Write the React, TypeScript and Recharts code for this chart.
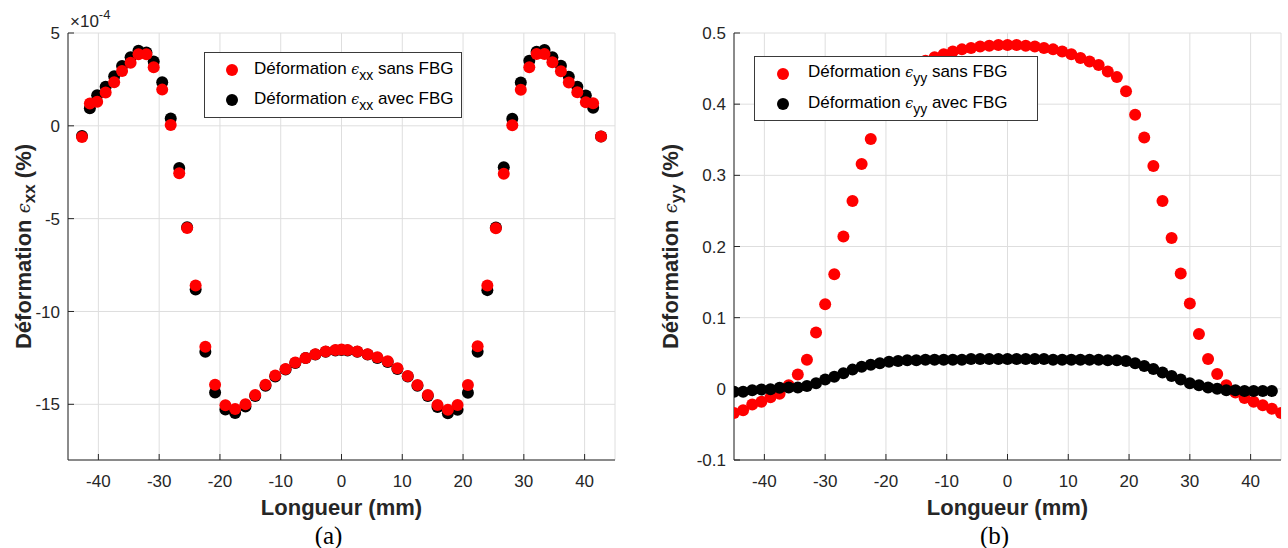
import React from 'react';
import { ScatterChart, Scatter, XAxis, YAxis, CartesianGrid, Legend } from 'recharts';

// ---------- data ----------
const xTicks = [-40, -30, -20, -10, 0, 10, 20, 30, 40];
const yTicksA = [-15, -10, -5, 0, 5];
const yTicksB = [-0.1, 0, 0.1, 0.2, 0.3, 0.4, 0.5];

// (a) positions (mm)
const posA = [
  -42.7, -41.4, -40.2, -38.8, -37.4, -36.1, -34.7, -33.4, -32.1, -30.9, -29.5, -28.1, -26.7, -25.4, -24.0,
  -22.4, -20.8, -19.1, -17.5, -15.8, -14.2, -12.5, -10.9, -9.2, -7.6, -5.9, -4.3, -2.6, -1.0, 0,
  1.0, 2.6, 4.3, 5.9, 7.6, 9.2, 10.9, 12.5, 14.2, 15.8, 17.5, 19.1, 20.8, 22.4, 24.0,
  25.4, 26.7, 28.1, 29.5, 30.9, 32.1, 33.4, 34.7, 36.1, 37.4, 38.8, 40.2, 41.4, 42.7,
];
// (a) eps_xx sans FBG (x1e-4 %)
const exxSans = [
  -0.6, 1.2, 1.3, 1.8, 2.35, 2.95, 3.4, 3.85, 3.85, 3.15, 1.95, 0.05, -2.55, -5.5, -8.6,
  -11.9, -13.95, -15.05, -15.25, -15.0, -14.5, -13.95, -13.45, -13.1, -12.75, -12.5, -12.3, -12.15, -12.08, -12.05,
  -12.08, -12.15, -12.3, -12.47, -12.68, -13.06, -13.48, -13.96, -14.5, -15.04, -15.3, -15.04, -13.96, -11.87, -8.6,
  -5.52, -2.58, 0.03, 1.94, 3.15, 3.87, 3.87, 3.42, 2.94, 2.34, 1.81, 1.27, 1.22, -0.58,
];
// (a) eps_xx avec FBG
const exxAvec = [
  -0.55, 0.95, 1.65, 2.1, 2.67, 3.22, 3.7, 4.05, 3.95, 3.47, 2.35, 0.39, -2.27, -5.46, -8.82,
  -12.17, -14.37, -15.28, -15.47, -15.12, -14.55, -14.0, -13.5, -13.12, -12.78, -12.5, -12.32, -12.17, -12.1, -12.08,
  -12.1, -12.17, -12.32, -12.5, -12.72, -13.1, -13.5, -14.0, -14.55, -15.15, -15.48, -15.3, -14.38, -12.17, -8.85,
  -5.47, -2.23, 0.38, 2.34, 3.51, 3.99, 4.09, 3.69, 3.24, 2.65, 2.11, 1.63, 0.97, -0.58,
];

// (b) positions (mm)
const posB = [
  -45, -43.5, -42, -40.5, -39, -37.5, -36, -34.5, -33, -31.5, -30, -28.5, -27, -25.5, -24, -22.5,
  -21, -19.5, -18, -16.5, -15, -13.5, -12, -10.5, -9, -7.5, -6, -4.5, -3, -1.5, 0,
  1.5, 3, 4.5, 6, 7.5, 9, 10.5, 12, 13.5, 15, 16.5, 18, 19.5, 21, 22.5,
  24, 25.5, 27, 28.5, 30, 31.5, 33, 34.5, 36, 37.5, 39, 40.5, 42, 43.5, 45,
];
// (b) eps_yy sans FBG (%)
const eyySans = [
  -0.034, -0.030, -0.022, -0.018, -0.012, -0.007, 0.005, 0.020, 0.041, 0.079, 0.119, 0.161, 0.214, 0.264, 0.316, 0.351,
  0.385, 0.418, 0.437, 0.447, 0.455, 0.461, 0.466, 0.470, 0.474, 0.477, 0.479, 0.481, 0.482, 0.483, 0.483,
  0.483, 0.482, 0.481, 0.479, 0.477, 0.474, 0.470, 0.465, 0.460, 0.455, 0.446, 0.438, 0.418, 0.385, 0.353,
  0.313, 0.264, 0.212, 0.162, 0.120, 0.077, 0.042, 0.021, 0.005, -0.005, -0.013, -0.018, -0.023, -0.028, -0.034,
];
// (b) eps_yy avec FBG (%)
const eyyAvec = [
  -0.004, -0.004, -0.002, -0.001, -0.0005, 0.0015, 0.002, 0.002, 0.004, 0.008, 0.013, 0.017, 0.022, 0.027, 0.031, 0.034,
  0.036, 0.038, 0.039, 0.040, 0.040, 0.041, 0.041, 0.041, 0.041, 0.041, 0.042, 0.042, 0.042, 0.042, 0.042,
  0.042, 0.042, 0.042, 0.042, 0.041, 0.041, 0.041, 0.041, 0.041, 0.041, 0.040, 0.040, 0.039, 0.036, 0.032,
  0.028, 0.023, 0.018, 0.013, 0.008, 0.005, 0.002, 0.000, -0.002, -0.002, -0.003, -0.003, -0.003, -0.003,
];

const legendA = [
  { pre: 'Déformation ', sym: 'ϵ', sub: 'xx', post: ' sans FBG', color: '#ff0000' },
  { pre: 'Déformation ', sym: 'ϵ', sub: 'xx', post: ' avec FBG', color: '#000000' },
];
const legendB = [
  { pre: 'Déformation ', sym: 'ϵ', sub: 'yy', post: ' sans FBG', color: '#ff0000' },
  { pre: 'Déformation ', sym: 'ϵ', sub: 'yy', post: ' avec FBG', color: '#000000' },
];

const toPts = (xs: number[], ys: number[]) => ys.map((y, i) => ({ x: xs[i], y }));
const dataASans = toPts(posA, exxSans);
const dataAAvec = toPts(posA, exxAvec);
const dataBSans = toPts(posB, eyySans);
const dataBAvec = toPts(posB, eyyAvec);

// ---------- styles ----------
const FONT = '"Liberation Sans", Arial, Helvetica, sans-serif';
const AX = '#262626';
const GRID = '#dedede';
const tickStyle = { fill: AX, fontSize: 17, fontFamily: FONT };

const dot = (fill: string, r: number) => (props: any) => {
  if (props.cx == null || props.cy == null) return <g />;
  return <circle cx={props.cx} cy={props.cy} r={r} fill={fill} />;
};

const LegendBox = ({ entries, w, h, mx, tx, rows, tops }: any) => (
  <div
    style={{
      position: 'relative', width: w, height: h, boxSizing: 'border-box',
      border: '1px solid #3a3a3a', background: '#fff', fontFamily: FONT, fontSize: 17, color: '#000',
    }}
  >
    {entries.map((e: any, i: number) => (
      <React.Fragment key={i}>
        <div
          style={{
            position: 'absolute', left: mx - 6, top: rows[i] - 6, width: 12, height: 12,
            borderRadius: '50%', background: e.color,
          }}
        />
        <div style={{ position: 'absolute', left: tx, top: tops[i], lineHeight: '22px', whiteSpace: 'nowrap' }}>
          {e.pre}
          <span style={{ fontStyle: 'italic', fontFamily: '"DejaVu Serif", serif', fontSize: 14 }}>{e.sym}</span>
          <span style={{ fontSize: 14, position: 'relative', top: 6 }}>{e.sub}</span>
          {e.post}
        </div>
      </React.Fragment>
    ))}
  </div>
);

const YTitle = ({ viewBox, sub, dx, exp }: any) => {
  if (!viewBox) return null;
  const cx = viewBox.x + dx;
  const cy = viewBox.y + viewBox.height / 2;
  return (
    <g>
      <text
        x={cx} y={cy} transform={`rotate(-90 ${cx} ${cy})`} textAnchor="middle" dominantBaseline="central"
        fontFamily={FONT} fontSize={22} fontWeight="bold" fill={AX}
      >
        Déformation{' '}
        <tspan fontWeight="normal" fontStyle="italic" fontFamily='"DejaVu Serif", serif' fontSize={18}>ϵ</tspan>
        <tspan fontSize={17} dy={6}>{sub}</tspan>
        <tspan dy={-6}> (%)</tspan>
      </text>
      {exp ? (
        <text x={viewBox.x + viewBox.width + 2} y={viewBox.y - 6} fontFamily={FONT} fontSize={17} fill={AX}>
          ×10<tspan fontSize={13} dy={-8}>-4</tspan>
        </text>
      ) : null}
    </g>
  );
};

const XTitle = ({ viewBox, cap }: any) => {
  if (!viewBox) return null;
  const cx = viewBox.x + viewBox.width / 2;
  return (
    <g>
      <text x={cx} y={viewBox.y + 55} textAnchor="middle" fontFamily={FONT} fontSize={22} fontWeight="bold" fill={AX}>
        Longueur (mm)
      </text>
      <text x={cx - 13} y={viewBox.y + 84} textAnchor="middle" fontFamily='"Liberation Serif", "Times New Roman", serif' fontSize={25} fill="#000">
        {cap}
      </text>
    </g>
  );
};

const Panel = ({
  left, width, yw, mr, yDomain, yTicks, dA, dB, legend, lw, lh, lx, ly, lmx, ltx, lrows, ltops, sub, cap, ydx, exp, redOnTop,
}: any) => {
  const red = (
    <Scatter key="red" name={legend[0].pre + legend[0].sym + legend[0].sub + legend[0].post} data={dA}
      fill="#ff0000" shape={dot('#ff0000', 6)} isAnimationActive={false} />
  );
  const black = (
    <Scatter key="black" name={legend[1].pre + legend[1].sym + legend[1].sub + legend[1].post} data={dB}
      fill="#000000" shape={dot('#000000', 6)} isAnimationActive={false} />
  );
  return (
    <div style={{ position: 'absolute', left, top: 0 }}>
      <ScatterChart width={width} height={548} margin={{ top: 33, right: mr, bottom: 48, left: 0 }}>
        <CartesianGrid stroke={GRID} strokeWidth={1} />
        <XAxis
          type="number" dataKey="x" domain={[-45, 45]} ticks={xTicks} allowDataOverflow height={40}
          tick={tickStyle} tickSize={-6} tickMargin={21} axisLine={{ stroke: AX }} tickLine={{ stroke: AX }}
          label={{ content: (p: any) => <XTitle viewBox={p.viewBox} cap={cap} /> }}
        />
        <XAxis
          xAxisId="top" orientation="top" type="number" dataKey="x" domain={[-45, 45]} ticks={xTicks}
          allowDataOverflow height={0} tick={false} tickSize={-6} axisLine={{ stroke: AX }} tickLine={{ stroke: AX }}
        />
        <YAxis
          type="number" dataKey="y" domain={yDomain} ticks={yTicks} allowDataOverflow width={yw}
          tick={tickStyle} tickSize={-6} tickMargin={14} axisLine={{ stroke: AX }} tickLine={{ stroke: AX }}
          label={{ content: (p: any) => <YTitle viewBox={p.viewBox} sub={sub} dx={ydx} exp={exp} /> }}
        />
        <YAxis
          yAxisId="right" orientation="right" type="number" dataKey="y" domain={yDomain} ticks={yTicks}
          allowDataOverflow width={0} tick={false} tickSize={-6} axisLine={{ stroke: AX }} tickLine={{ stroke: AX }}
        />
        <Legend
          layout="vertical" align="center" verticalAlign="middle"
          wrapperStyle={{ left: lx, top: ly, width: lw, height: lh }}
          content={() => (
            <LegendBox entries={legend} w={lw} h={lh} mx={lmx} tx={ltx} rows={lrows} tops={ltops} />
          )}
        />
        {redOnTop ? [black, red] : [red, black]}
      </ScatterChart>
    </div>
  );
};

export default function App() {
  return (
    <div style={{ position: 'absolute', left: 0, top: 0, width: 1288, height: 548, background: '#fff', overflow: 'hidden' }}>
      <Panel
        left={0} width={640} yw={68} mr={25} yDomain={[-18, 5]} yTicks={yTicksA}
        dA={dataASans} dB={dataAAvec} legend={legendA}
        lw={258} lh={66} lx={204} ly={52} lmx={27} ltx={49} lrows={[17, 47]} ltops={[5, 35]}
        sub="xx" cap="(a)" ydx={23} exp redOnTop
      />
      <Panel
        left={646} width={642} yw={88} mr={7} yDomain={[-0.1, 0.5]} yTicks={yTicksB}
        dA={dataBSans} dB={dataBAvec} legend={legendB}
        lw={284} lh={65} lx={108} ly={56} lmx={28} ltx={53} lrows={[17, 47]} ltops={[4, 35]}
        sub="yy" cap="(b)" ydx={24} exp={false} redOnTop={false}
      />
    </div>
  );
}
